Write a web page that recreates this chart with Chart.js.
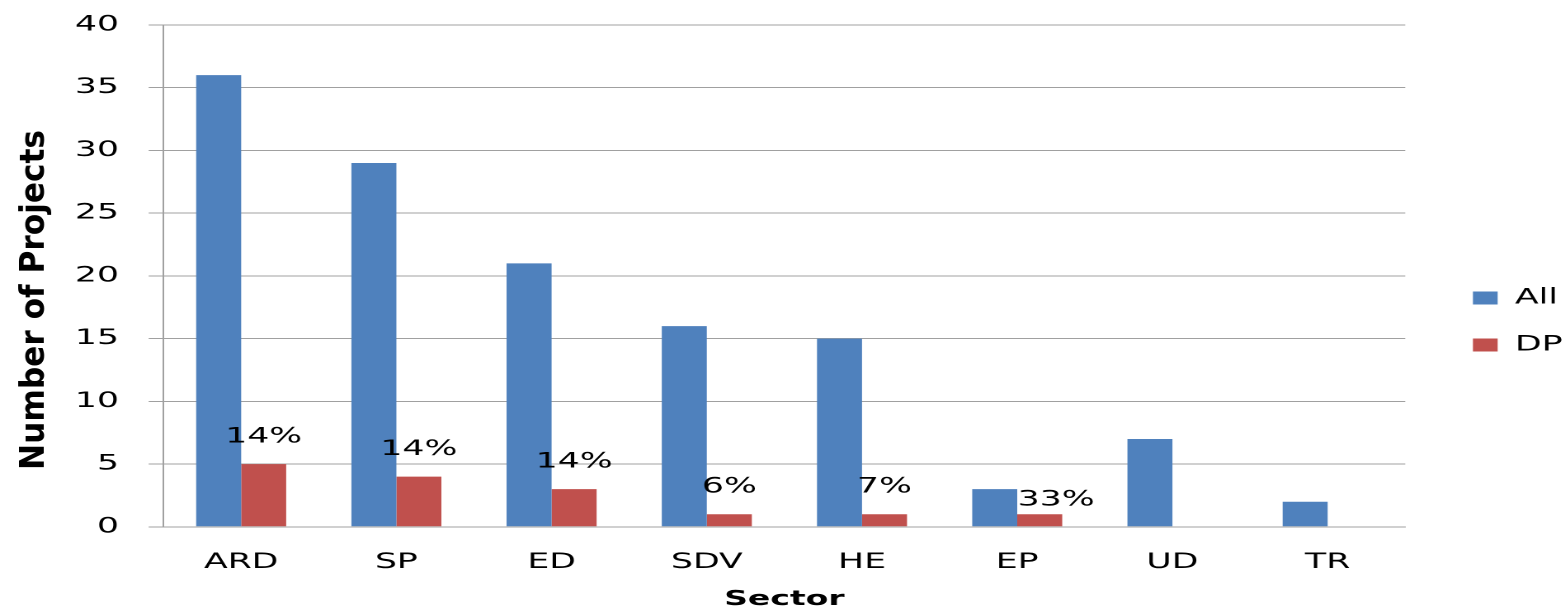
<!DOCTYPE html>
<html>
<head>
<meta charset="utf-8">
<script src="https://cdn.jsdelivr.net/npm/chart.js@4"></script>
<style>
  html, body { margin: 0; padding: 0; background: #fff; overflow: hidden; }
  /* the reference is stretched sideways, so the chart is drawn narrow and widened */
  #wrap { width: 948px; height: 612px; transform: scaleX(1.65); transform-origin: 0 0; }
</style>
</head>
<body>
<div id="wrap"><canvas id="sectorChart" width="948" height="612"></canvas></div>
<script>
const sectors = ['ARD', 'SP', 'ED', 'SDV', 'HE', 'EP', 'UD', 'TR'];
const allProjects = [36, 29, 21, 16, 15, 3, 7, 2];
const dpProjects = [5, 4, 3, 1, 1, 1, 0, 0];
const dpShare = ['14%', '14%', '14%', '6%', '7%', '33%', '', ''];
const yTicks = [0, 5, 10, 15, 20, 25, 30, 35, 40];

const gridColor = '#a0a0a0';
const tickFont = { family: 'DejaVu Sans', size: 21 };

// percentage labels above the DP bars
const shareLabels = {
    id: 'shareLabels',
    afterDatasetsDraw(chart, args, opts) {
        const ctx = chart.ctx;
        const meta = chart.getDatasetMeta(1);
        ctx.save();
        ctx.font = '21px "DejaVu Sans"';
        ctx.fillStyle = '#000';
        ctx.textAlign = 'center';
        ctx.textBaseline = 'middle';
        meta.data.forEach((bar, i) => {
            if (!dpShare[i]) return;
            const nudge = opts.nudge[i] || { dx: 0, dy: 0 };
            ctx.fillText(dpShare[i], bar.x + nudge.dx, bar.y - 27 + nudge.dy);
        });
        ctx.restore();
    }
};

// tall narrow y axis title
const yTitle = {
    id: 'yTitle',
    afterDraw(chart, args, opts) {
        const ctx = chart.ctx;
        ctx.save();
        ctx.translate(opts.x, opts.y);
        ctx.rotate(-Math.PI / 2);
        ctx.font = 'bold 20px "DejaVu Sans Condensed", "DejaVu Sans"';
        const w = ctx.measureText(opts.text).width;
        ctx.scale(opts.length / w, 1);
        ctx.fillStyle = '#000';
        ctx.textAlign = 'center';
        ctx.textBaseline = 'middle';
        ctx.fillText(opts.text, 0, 0);
        ctx.restore();
    }
};

// push the legend a little further right and down
const legendShift = {
    id: 'legendShift',
    afterLayout(chart, args, opts) {
        const lg = chart.legend;
        lg.left += opts.dx; lg.right += opts.dx;
        lg.top += opts.dy; lg.bottom += opts.dy;
    }
};

new Chart(document.getElementById('sectorChart').getContext('2d'), {
    type: 'bar',
    data: {
        labels: sectors,
        datasets: [{
            label: 'All',
            data: allProjects,
            backgroundColor: '#4f81bd',
            borderWidth: 0,
            categoryPercentage: 0.58,
            barPercentage: 1
        }, {
            label: 'DP',
            data: dpProjects,
            backgroundColor: '#c0504d',
            borderWidth: 0,
            categoryPercentage: 0.58,
            barPercentage: 1
        }]
    },
    options: {
        responsive: false,
        animation: false,
        devicePixelRatio: 2,
        layout: { padding: { left: 27.4, top: 25, right: 6, bottom: 0 } },
        scales: {
            x: {
                grid: { display: false },
                border: { display: true, color: gridColor, width: 1 },
                ticks: { font: tickFont, color: '#000', padding: 15 },
                title: {
                    display: true,
                    text: 'Sector',
                    color: '#000',
                    font: { family: 'DejaVu Sans', size: 20, weight: 'bold' },
                    padding: { top: -2, bottom: 0 }
                }
            },
            y: {
                min: 0,
                max: 40,
                afterBuildTicks: axis => { axis.ticks = yTicks.map(v => ({ value: v })); },
                afterFit: axis => { axis.paddingTop = 0; },
                grid: { color: gridColor, tickLength: 9, tickColor: gridColor },
                border: { display: true, color: gridColor, width: 1 },
                ticks: { font: tickFont, color: '#000', padding: 18 }
            }
        },
        plugins: {
            legend: {
                position: 'right',
                labels: {
                    color: '#000',
                    font: tickFont,
                    boxWidth: 15,
                    boxHeight: 13,
                    padding: 26
                }
            },
            tooltip: { enabled: false },
            legendShift: { dx: 15, dy: 3 },
            shareLabels: { nudge: { 5: { dx: 10, dy: 13 } } },
            yTitle: { text: 'Number of Projects', x: 21.5, y: 300, length: 340 }
        }
    },
    plugins: [shareLabels, yTitle, legendShift]
});
</script>
</body>
</html>
